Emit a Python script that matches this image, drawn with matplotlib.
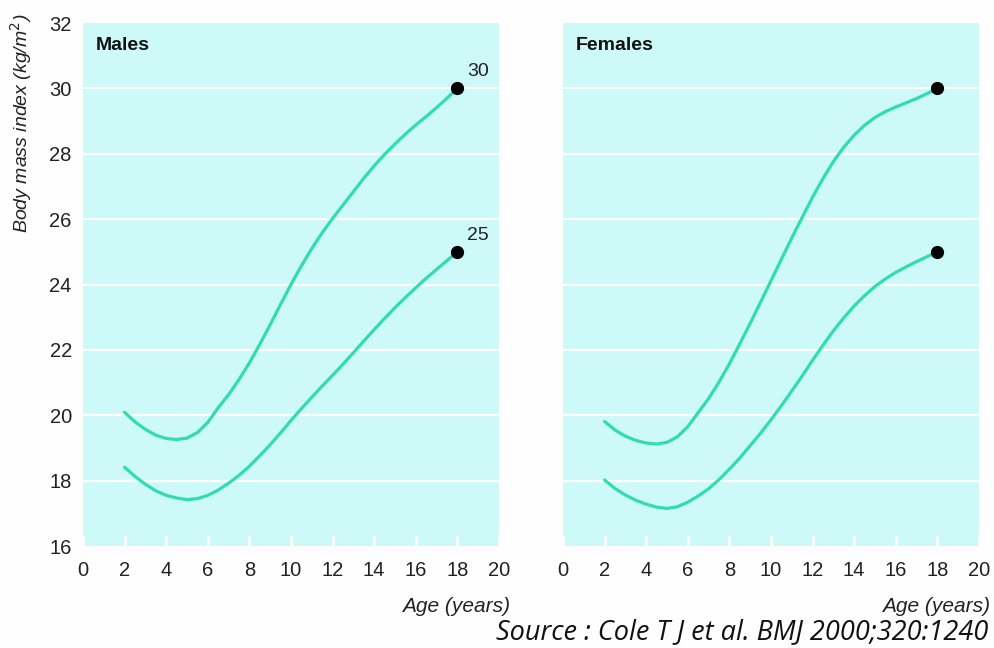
import numpy as np
import matplotlib
matplotlib.use("Agg")
import matplotlib.pyplot as plt

# ── Data (IOTF BMI cut-offs) ─────────────────────────────────────────────────
AGES = [2, 2.5, 3, 3.5, 4, 4.5, 5, 5.5, 6, 6.5, 7, 7.5, 8, 8.5, 9, 9.5,
        10, 10.5, 11, 11.5, 12, 12.5, 13, 13.5, 14, 14.5, 15, 15.5, 16, 16.5,
        17, 17.5, 18]

MALES_25 = [18.41, 18.13, 17.89, 17.69, 17.55, 17.47, 17.42, 17.45, 17.55, 17.71,
            17.92, 18.16, 18.44, 18.76, 19.10, 19.46, 19.84, 20.20, 20.55, 20.89,
            21.22, 21.56, 21.91, 22.27, 22.62, 22.96, 23.29, 23.60, 23.90, 24.19,
            24.46, 24.73, 25.00]
MALES_30 = [20.09, 19.80, 19.57, 19.39, 19.29, 19.26, 19.30, 19.47, 19.78, 20.23,
            20.63, 21.09, 21.60, 22.17, 22.77, 23.39, 24.00, 24.57, 25.10, 25.58,
            26.02, 26.43, 26.84, 27.25, 27.63, 27.98, 28.30, 28.60, 28.88, 29.14,
            29.41, 29.70, 30.00]
FEMALES_25 = [18.02, 17.76, 17.56, 17.40, 17.28, 17.19, 17.15, 17.20, 17.34, 17.53,
              17.75, 18.03, 18.35, 18.69, 19.07, 19.45, 19.86, 20.29, 20.74, 21.20,
              21.68, 22.14, 22.58, 22.98, 23.34, 23.66, 23.94, 24.17, 24.37, 24.54,
              24.70, 24.85, 25.00]
FEMALES_30 = [19.81, 19.55, 19.36, 19.23, 19.15, 19.12, 19.17, 19.34, 19.65, 20.08,
              20.51, 21.01, 21.57, 22.18, 22.81, 23.46, 24.11, 24.77, 25.42, 26.05,
              26.67, 27.24, 27.76, 28.20, 28.57, 28.87, 29.11, 29.29, 29.43, 29.56,
              29.69, 29.84, 30.00]

PANELS = ["Males", "Females"]
CUTOFFS = ["25", "30"]
X_TICKS = list(range(0, 21, 2))
Y_TICKS = list(range(16, 33, 2))

# ── Style ────────────────────────────────────────────────────────────────────
BG = "#cdf9f8"
LINE = "#30dcb0"
FONT = ["Liberation Sans Narrow", "Liberation Sans", "DejaVu Sans"]
plt.rcParams["font.family"] = FONT

fig = plt.figure(figsize=(9.95, 6.48), dpi=100)
fig.patch.set_facecolor("#fefefe")

ax_m = fig.add_axes([0.0834, 0.1574, 0.418, 0.807])
ax_f = fig.add_axes([0.5658, 0.1574, 0.418, 0.807])

series = {
    "Males": [MALES_25, MALES_30],
    "Females": [FEMALES_25, FEMALES_30],
}

for ax, name in zip([ax_m, ax_f], PANELS):
    ax.set_facecolor(BG)
    ax.set_xlim(0, 20)
    ax.set_ylim(16, 32)
    for y in Y_TICKS[1:-1]:
        ax.axhline(y, color="white", linewidth=1.6, zorder=1)
    for vals in series[name]:
        ax.plot(AGES, vals, color=LINE, linewidth=2.3, zorder=2,
                solid_capstyle="round")
        ax.plot(AGES[-1], vals[-1], "o", color="black", markersize=8.5, zorder=3)
    ax.text(0.6, 31.3, name, fontsize=14, fontweight="bold", color="#111111",
            va="center", ha="left")

    for s in ax.spines.values():
        s.set_visible(False)
    ax.set_xticks(X_TICKS)
    ax.set_xticklabels([str(t) for t in X_TICKS])
    ax.tick_params(axis="x", direction="in", length=7, width=2, color="white",
                   pad=11, labelsize=14.5, labelcolor="#222222")
    ax.set_yticks(Y_TICKS)
    ax.text(1.027, -0.115, "Age (years)", transform=ax.transAxes, ha="right",
            va="center", fontsize=15, style="italic", color="#222222")

ax_m.tick_params(axis="y", length=0, pad=8, labelsize=14.5, labelcolor="#222222")
ax_f.tick_params(axis="y", length=0, labelleft=False)

# cut-off labels on the males panel
for vals, lab in zip(series["Males"], CUTOFFS):
    ax_m.annotate(lab, (AGES[-1], vals[-1]), xytext=(7, 6),
                  textcoords="offset points", fontsize=14, color="#222222",
                  ha="left", va="bottom")

fig.text(0.021, 0.81, "Body mass index (kg/m$^2$)", rotation=90, ha="center",
         va="center", fontsize=14, style="italic", color="#222222")

fig.text(0.993, 0.025, "Source : Cole T J et al. BMJ 2000;320:1240",
         ha="right", va="center", fontsize=19.5, style="italic",
         family=["Open Sans", "DejaVu Sans"], color="#111111")

plt.savefig("out.png", dpi=100, facecolor=fig.get_facecolor())
